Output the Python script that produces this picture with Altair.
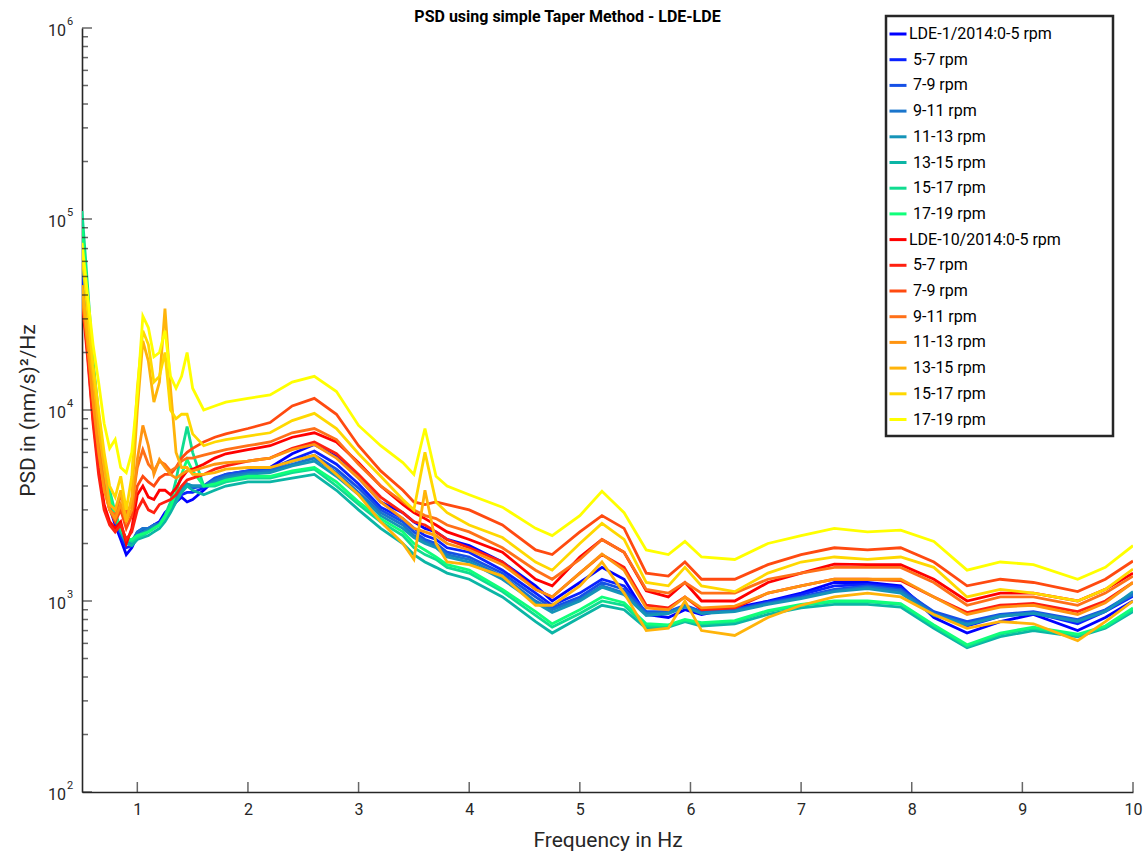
import altair as alt
import pandas as pd

# Frequency grid (Hz) shared by every spectrum
FREQ = [0.50, 0.55, 0.60, 0.65, 0.70, 0.75, 0.80, 0.85, 0.90, 0.95,
        1.00, 1.05, 1.10, 1.15, 1.20, 1.25, 1.30, 1.35, 1.40, 1.45,
        1.50, 1.60, 1.70, 1.80, 2.00, 2.20, 2.40, 2.60, 2.80, 3.00,
        3.20, 3.40, 3.50, 3.60, 3.70, 3.80, 4.00, 4.30, 4.60, 4.75,
        5.00, 5.20, 5.40, 5.60, 5.80, 5.95, 6.10, 6.40, 6.70, 7.00,
        7.30, 7.60, 7.90, 8.20, 8.50, 8.80, 9.10, 9.50, 9.75, 10.00]

# LDE-1/2014 spectra, (nm/s)^2/Hz
lde1_0_5 = [55000, 26000, 12000, 7000, 4200, 3100, 2500, 2100, 1750, 1900,
            2200, 2300, 2350, 2500, 2600, 2900, 3100, 3300, 3500, 3300,
            3400, 3800, 4300, 4600, 4800, 5000, 5900, 6600, 5700, 4400,
            3300, 2900, 2600, 2400, 2300, 2100, 1950, 1600, 1200, 1000,
            1250, 1500, 1300, 850, 820, 900, 850, 920, 1000, 1100,
            1250, 1250, 1200, 820, 680, 780, 850, 700, 820, 1000]
lde1_5_7 = [58000, 28000, 13000, 7400, 4500, 3200, 2600, 2200, 1900, 1950,
            2250, 2350, 2400, 2500, 2550, 2800, 3000, 3300, 3600, 3700,
            3700, 3900, 4300, 4500, 4700, 4900, 5500, 6100, 5200, 4100,
            3100, 2700, 2400, 2200, 2100, 1900, 1800, 1450, 1100, 950,
            1100, 1300, 1200, 870, 870, 940, 880, 900, 990, 1080,
            1200, 1220, 1180, 860, 740, 830, 870, 760, 880, 1060]
lde1_7_9 = [60000, 30000, 14000, 8000, 4800, 3400, 2700, 2300, 2000, 2000,
            2300, 2400, 2400, 2500, 2500, 2800, 3000, 3400, 3800, 4000,
            3900, 4000, 4400, 4600, 4800, 4900, 5400, 5800, 4900, 3900,
            3000, 2600, 2300, 2100, 2000, 1800, 1700, 1400, 1050, 920,
            1050, 1250, 1150, 880, 880, 950, 880, 900, 980, 1050,
            1150, 1200, 1150, 880, 780, 850, 880, 800, 900, 1100]
lde1_9_11 = [62000, 32000, 15000, 8500, 5000, 3500, 2800, 2400, 2100, 2050,
             2300, 2400, 2400, 2500, 2550, 2800, 3100, 3500, 3900, 4100,
             4000, 4000, 4300, 4500, 4700, 4800, 5200, 5600, 4700, 3700,
             2900, 2500, 2200, 2050, 1950, 1750, 1650, 1350, 1000, 900,
             1020, 1200, 1100, 860, 870, 940, 870, 890, 970, 1040,
             1130, 1180, 1130, 860, 760, 840, 870, 790, 890, 1080]
lde1_11_13 = [65000, 33000, 15000, 8600, 5000, 3500, 2800, 2350, 2050, 2000,
              2200, 2300, 2350, 2450, 2500, 2750, 3000, 3400, 3800, 4100,
              4000, 4000, 4200, 4400, 4600, 4700, 5100, 5400, 4500, 3600,
              2800, 2400, 2150, 2000, 1900, 1700, 1600, 1300, 980, 870,
              1000, 1180, 1080, 840, 860, 930, 860, 880, 960, 1030,
              1120, 1160, 1100, 840, 750, 830, 860, 780, 880, 1120]
lde1_13_15 = [70000, 34000, 15000, 8000, 4600, 3300, 2700, 2300, 2000, 1950,
              2100, 2150, 2200, 2300, 2400, 2600, 2900, 3300, 3700, 4000,
              3800, 3600, 3800, 4000, 4200, 4200, 4400, 4600, 3800, 3000,
              2400, 2000, 1750, 1600, 1500, 1400, 1300, 1050, 780, 680,
              820, 950, 900, 720, 730, 780, 740, 760, 850, 920,
              960, 960, 930, 720, 570, 650, 700, 650, 720, 880]
lde1_15_17 = [110000, 45000, 18000, 9500, 5500, 3800, 2900, 2400, 2100, 2050,
              2150, 2200, 2300, 2400, 2500, 2800, 3300, 4300, 6000, 8200,
              6000, 4000, 4000, 4200, 4400, 4400, 4700, 4900, 4000, 3200,
              2600, 2200, 1900, 1750, 1650, 1500, 1400, 1120, 840, 730,
              860, 1000, 950, 740, 740, 790, 760, 780, 880, 950,
              990, 990, 960, 740, 580, 670, 720, 660, 730, 900]
lde1_17_19 = [90000, 40000, 17000, 9000, 5200, 3600, 2800, 2400, 2100, 2100,
              2200, 2250, 2300, 2400, 2500, 2750, 3100, 3700, 4600, 5500,
              4800, 4000, 4100, 4300, 4500, 4500, 4800, 5000, 4200, 3300,
              2700, 2300, 2000, 1850, 1700, 1550, 1450, 1150, 880, 760,
              900, 1050, 980, 760, 750, 800, 770, 790, 890, 960,
              1000, 1000, 970, 750, 590, 680, 730, 670, 740, 920]

# LDE-10/2014 spectra, (nm/s)^2/Hz
lde10_0_5 = [40000, 20000, 9000, 5000, 3200, 2600, 2400, 2600, 2000, 2400,
             3600, 4000, 3500, 3400, 3800, 3800, 3600, 3900, 4400, 4800,
             4900, 5200, 5600, 5900, 6200, 6500, 7200, 7600, 6800, 5300,
             4000, 3200, 2900, 2700, 2500, 2300, 2100, 1800, 1300, 1200,
             1700, 2100, 1800, 1130, 1050, 1250, 1000, 1000, 1250, 1400,
             1560, 1550, 1550, 1300, 1000, 1100, 1100, 1000, 1150, 1400]
lde10_5_7 = [38000, 19000, 8500, 4600, 3000, 2500, 2300, 2500, 2100, 2300,
             3000, 3400, 3000, 2900, 3200, 3300, 3400, 3600, 4000, 4300,
             4400, 4600, 4900, 5100, 5400, 5600, 6300, 6800, 5900, 4600,
             3500, 2900, 2600, 2500, 2300, 2100, 1900, 1600, 1150, 1050,
             1400, 1750, 1500, 950, 920, 1050, 900, 920, 1100, 1200,
             1300, 1300, 1280, 1050, 870, 950, 970, 880, 1000, 1250]
lde10_7_9 = [45000, 24000, 12000, 6500, 4000, 3000, 2600, 3000, 2400, 2800,
             4000, 4500, 4200, 4000, 4400, 4600, 4600, 5000, 5600, 6000,
             6300, 6800, 7200, 7500, 8000, 8600, 10500, 11500, 9500, 6500,
             4800, 3800, 3300, 3200, 3300, 3200, 3000, 2500, 1850, 1750,
             2300, 2800, 2400, 1400, 1350, 1600, 1300, 1300, 1550, 1750,
             1900, 1850, 1900, 1600, 1200, 1300, 1250, 1120, 1300, 1620]
lde10_9_11 = [42000, 23000, 11500, 6500, 4000, 3000, 2800, 3600, 2900, 3200,
              5000, 6200, 5200, 4800, 5400, 5200, 4800, 5000, 5400, 5600,
              5600, 5800, 6000, 6200, 6500, 6800, 7600, 8000, 7000, 5200,
              4000, 3300, 3000, 2800, 2700, 2500, 2300, 1900, 1450, 1300,
              1650, 2100, 1800, 1150, 1100, 1250, 1100, 1100, 1300, 1400,
              1500, 1500, 1500, 1250, 950, 1050, 1050, 950, 1100, 1350]
lde10_11_13 = [40000, 22000, 11000, 6000, 3800, 3000, 2700, 3200, 2600, 3000,
               5500, 8300, 6500, 4600, 5500, 5000, 4600, 4400, 4600, 4800,
               4800, 5000, 5200, 5300, 5400, 5600, 6200, 6600, 5600, 4400,
               3300, 2700, 2400, 2300, 2200, 2000, 1850, 1550, 1150, 1050,
               1400, 1760, 1450, 920, 900, 1050, 920, 940, 1100, 1200,
               1300, 1300, 1300, 1050, 850, 930, 950, 850, 980, 1250]
lde10_13_15 = [45000, 25000, 15000, 8000, 5000, 3200, 3000, 3800, 2600, 3500,
               10000, 23000, 18000, 11000, 14000, 34000, 13000, 6000, 5000, 5000,
               4600, 4600, 4700, 4900, 5000, 5000, 5400, 5800, 4600, 3600,
               2600, 2000, 1650, 3800, 2000, 1600, 1550, 1350, 950, 950,
               1200, 1600, 1100, 700, 720, 1000, 700, 660, 820, 950,
               1050, 1100, 1050, 850, 720, 780, 760, 620, 780, 1000]
lde10_15_17 = [65000, 33000, 17000, 10000, 6000, 4000, 3500, 4500, 3000, 4500,
               13000, 26000, 22000, 14000, 15000, 20000, 10000, 9000, 9500, 9500,
               7500, 6500, 6800, 7000, 7300, 7600, 8800, 9600, 8000, 5900,
               4500, 3400, 3000, 6000, 3300, 2900, 2500, 2150, 1600, 1450,
               2000, 2550, 2100, 1250, 1200, 1500, 1200, 1120, 1400, 1600,
               1700, 1650, 1700, 1500, 1050, 1150, 1100, 1000, 1150, 1470]
lde10_17_19 = [75000, 40000, 22000, 14000, 8500, 6300, 7000, 5000, 4700, 6000,
               12000, 31000, 27000, 19000, 20000, 26000, 15000, 13000, 15000, 20000,
               13000, 10000, 10500, 11000, 11500, 12000, 14000, 15000, 12500, 8300,
               6500, 5300, 4600, 8000, 4500, 4000, 3600, 3100, 2400, 2200,
               2800, 3750, 2900, 1850, 1750, 2050, 1700, 1650, 2000, 2200,
               2400, 2300, 2350, 2050, 1450, 1600, 1550, 1300, 1500, 1950]

# Legend labels; the indent and the padding after the longest label are kept
# as no-break spaces fenced by zero-width spaces so they survive trimming.
ZW = "\u200b"
NB = "\u00a0"
IND = ZW + NB
SERIES_LABELS = ["LDE-1/2014:0-5 rpm", IND + "5-7 rpm", IND + "7-9 rpm", IND + "9-11 rpm",
                 IND + "11-13 rpm", IND + "13-15 rpm", IND + "15-17 rpm", IND + "17-19 rpm",
                 "LDE-10/2014:0-5 rpm" + NB * 11 + ZW, IND + "5-7 rpm", IND + "7-9 rpm",
                 IND + "9-11 rpm", IND + "11-13 rpm", IND + "13-15 rpm", IND + "15-17 rpm",
                 IND + "17-19 rpm"]
SERIES_COLORS = ["#0000ff", "#0a22ff", "#1550e6", "#1a75cc", "#1594b8", "#0bb5a5", "#10dc90", "#10ff7a",
                 "#ff0000", "#ff2010", "#ff4a10", "#ff7018", "#ff9410", "#ffb40a", "#ffd800", "#ffff00"]
SERIES_VALUES = [lde1_0_5, lde1_5_7, lde1_7_9, lde1_9_11, lde1_11_13, lde1_13_15, lde1_15_17, lde1_17_19,
                 lde10_0_5, lde10_5_7, lde10_7_9, lde10_9_11, lde10_11_13, lde10_13_15, lde10_15_17, lde10_17_19]

X_TICKS = [1, 2, 3, 4, 5, 6, 7, 8, 9, 10]
Y_MAJOR = [1e2, 1e3, 1e4, 1e5, 1e6]
Y_EXP = ["2", "3", "4", "5", "6"]
Y_MINOR = [m * 10 ** k for k in range(2, 6) for m in range(2, 10)]

keys = [f"{i + 1:02d}|{lab}" for i, lab in enumerate(SERIES_LABELS)]
rows = []
for key, vals in zip(keys, SERIES_VALUES):
    for f, v in zip(FREQ, vals):
        rows.append({"freq": f, "psd": v, "series": key})
df = pd.DataFrame(rows)

INK = "#262626"
FONT = "Roboto"
xscale = alt.Scale(domain=[0.5, 10], nice=False, zero=False)
yscale = alt.Scale(type="log", domain=[100, 1e6], nice=False)

AX_X = alt.Axis(title="Frequency in Hz", values=X_TICKS, format="d", ticks=False, tickSize=0,
                grid=False, labelFontSize=16, labelPadding=9, labelColor=INK, labelFlush=False,
                labelFont=FONT, titleFont=FONT, titleFontSize=21,
                titleFontWeight="normal", titleColor=INK, titlePadding=12,
                domainColor=INK, domainWidth=1.6)
AX_Y = alt.Axis(title="PSD in (nm/s)²/Hz", labels=False, ticks=False, tickSize=0,
                grid=False, titleFont=FONT, titleFontSize=21, titleFontWeight="normal",
                titleColor=INK, titlePadding=44, domainColor=INK, domainWidth=1.6)

lines = alt.Chart(df).mark_line(strokeWidth=2.8, clip=True).encode(
    x=alt.X("freq:Q", scale=xscale, axis=AX_X),
    y=alt.Y("psd:Q", scale=yscale, axis=AX_Y),
    color=alt.Color("series:N",
                    scale=alt.Scale(domain=keys, range=SERIES_COLORS),
                    legend=alt.Legend(title=None, orient="none", legendX=804, legendY=-12,
                                      labelExpr="split(datum.label, '|')[1]")),
)

x_ticks = alt.Chart(pd.DataFrame({"t": X_TICKS})).mark_tick(
    orient="vertical", size=10, thickness=1.5, color=INK, yOffset=-5
).encode(x=alt.X("t:Q", scale=xscale, axis=AX_X), y=alt.datum(100))

y_major = alt.Chart(pd.DataFrame({"v": Y_MAJOR})).mark_tick(
    orient="horizontal", size=10, thickness=1.5, color=INK, xOffset=5
).encode(y=alt.Y("v:Q", scale=yscale, axis=AX_Y), x=alt.datum(0.5))

y_minor = alt.Chart(pd.DataFrame({"v": Y_MINOR})).mark_tick(
    orient="horizontal", size=6, thickness=1.5, color=INK, xOffset=3
).encode(y=alt.Y("v:Q", scale=yscale, axis=AX_Y), x=alt.datum(0.5))

lab_df = pd.DataFrame({"v": Y_MAJOR, "base": ["10"] * 5, "exp": Y_EXP})
y_base = alt.Chart(lab_df).mark_text(
    align="right", baseline="middle", fontSize=16, font=FONT, color=INK, dx=-16, dy=3
).encode(y=alt.Y("v:Q", scale=yscale, axis=AX_Y), x=alt.datum(0.5), text="base:N")
y_exp = alt.Chart(lab_df).mark_text(
    align="left", baseline="middle", fontSize=11, font=FONT, color=INK, dx=-15, dy=-6
).encode(y=alt.Y("v:Q", scale=yscale, axis=AX_Y), x=alt.datum(0.5), text="exp:N")

chart = alt.layer(lines, x_ticks, y_major, y_minor, y_base, y_exp).properties(
    width=1051, height=764,
    padding={"left": 82, "top": 28, "right": 12, "bottom": 62},
    autosize=alt.AutoSizeParams(type="none"),
    title=alt.TitleParams("PSD using simple Taper Method - LDE-LDE", font=FONT, fontSize=16,
                          fontWeight="bold", color="#000000", anchor="middle", frame="group",
                          dx=-40, offset=-10),
).configure_view(stroke=None).configure_legend(
    symbolType="stroke", symbolSize=289, symbolStrokeWidth=3, labelFont=FONT, labelFontSize=16,
    labelColor="#000000", labelOffset=1, labelLimit=400, rowPadding=7.7, padding=8,
    symbolOffset=-6, strokeColor=INK, strokeWidth=2.5, fillColor="#ffffff", cornerRadius=0,
)

chart.save("out.html", embed_options={"renderer": "svg", "actions": False})
